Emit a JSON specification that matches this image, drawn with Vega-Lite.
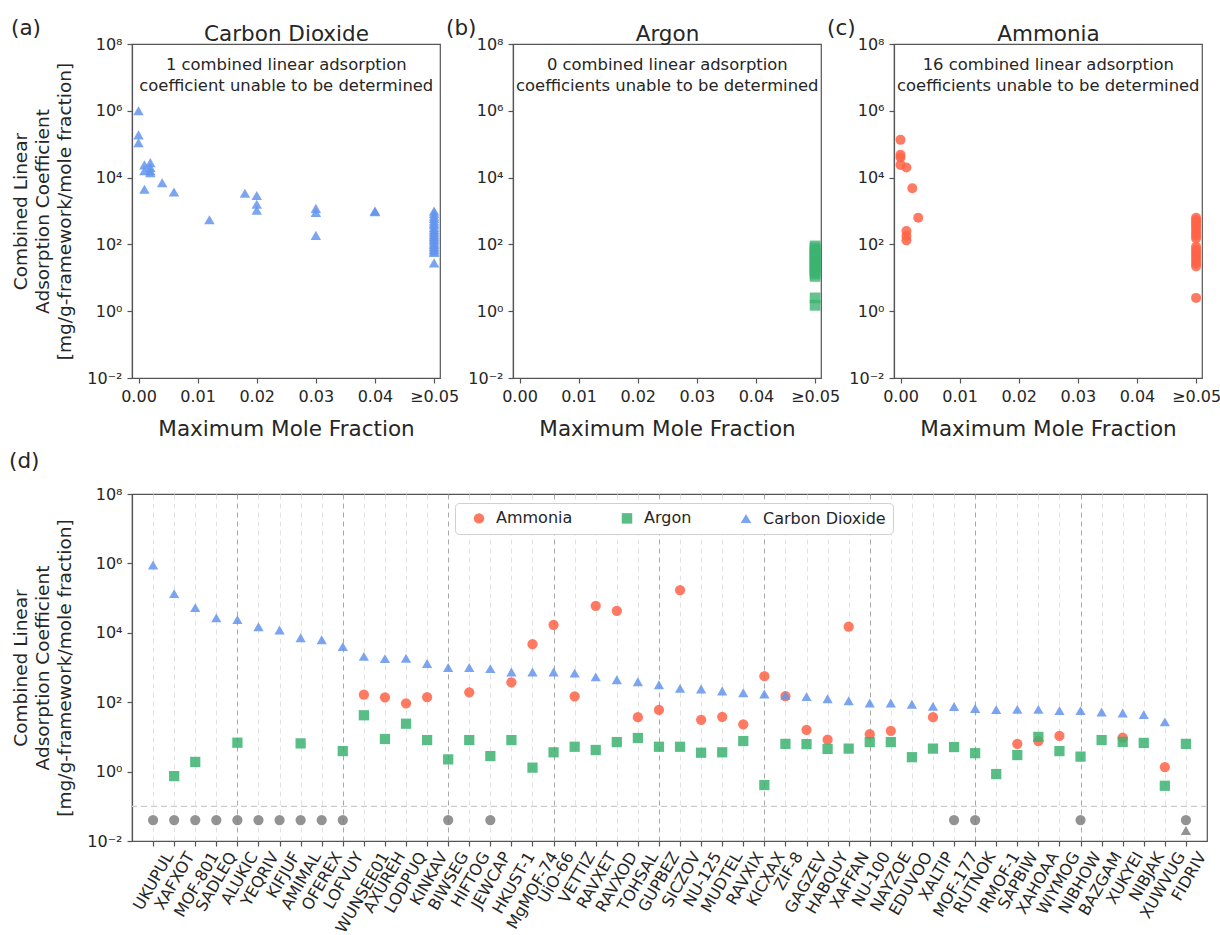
{
  "$schema": "https://vega.github.io/schema/vega-lite/v6.json",
  "background": "white",
  "padding": {"left": 8, "top": 16, "right": 4, "bottom": 4},
  "autosize": {"type": "pad"},
  "config": {
    "font": "DejaVu Sans",
    "view": {"stroke": "#555555", "strokeWidth": 1.2},
    "axis": {
      "domainColor": "#555555", "domainWidth": 1.2,
      "tickColor": "#555555", "tickWidth": 1.2, "tickSize": 5,
      "labelColor": "#262626", "titleColor": "#262626",
      "labelFontSize": 16, "titleFontWeight": "normal",
      "labelPadding": 5, "grid": false
    },
    "title": {"color": "#262626", "fontWeight": "normal", "fontSize": 21.5},
    "legend": {
      "labelColor": "#262626", "labelFontSize": 16,
      "fillColor": "white", "strokeColor": "#d0d0d0", "cornerRadius": 4,
      "padding": 7, "symbolOffset": 9, "columnPadding": 37, "labelOffset": 9,
      "symbolSize": 110, "symbolOpacity": 0.85
    }
  },
  "datasets": {
    "fractions": [
      {"gas": "Carbon Dioxide", "max_mole_fraction": 0, "coefficient": 1000000},
      {"gas": "Carbon Dioxide", "max_mole_fraction": 0, "coefficient": 190000},
      {"gas": "Carbon Dioxide", "max_mole_fraction": 0, "coefficient": 110000},
      {"gas": "Carbon Dioxide", "max_mole_fraction": 0.001, "coefficient": 24000},
      {"gas": "Carbon Dioxide", "max_mole_fraction": 0.001, "coefficient": 16000},
      {"gas": "Carbon Dioxide", "max_mole_fraction": 0.001, "coefficient": 4500},
      {"gas": "Carbon Dioxide", "max_mole_fraction": 0.002, "coefficient": 28000},
      {"gas": "Carbon Dioxide", "max_mole_fraction": 0.002, "coefficient": 20000},
      {"gas": "Carbon Dioxide", "max_mole_fraction": 0.002, "coefficient": 16000},
      {"gas": "Carbon Dioxide", "max_mole_fraction": 0.002, "coefficient": 14000},
      {"gas": "Carbon Dioxide", "max_mole_fraction": 0.004, "coefficient": 7000},
      {"gas": "Carbon Dioxide", "max_mole_fraction": 0.006, "coefficient": 3700},
      {"gas": "Carbon Dioxide", "max_mole_fraction": 0.012, "coefficient": 550},
      {"gas": "Carbon Dioxide", "max_mole_fraction": 0.018, "coefficient": 3400},
      {"gas": "Carbon Dioxide", "max_mole_fraction": 0.02, "coefficient": 2900},
      {"gas": "Carbon Dioxide", "max_mole_fraction": 0.02, "coefficient": 1600},
      {"gas": "Carbon Dioxide", "max_mole_fraction": 0.02, "coefficient": 1050},
      {"gas": "Carbon Dioxide", "max_mole_fraction": 0.03, "coefficient": 1200},
      {"gas": "Carbon Dioxide", "max_mole_fraction": 0.03, "coefficient": 900},
      {"gas": "Carbon Dioxide", "max_mole_fraction": 0.03, "coefficient": 186},
      {"gas": "Carbon Dioxide", "max_mole_fraction": 0.04, "coefficient": 1000},
      {"gas": "Carbon Dioxide", "max_mole_fraction": 0.04, "coefficient": 950},
      {"gas": "Carbon Dioxide", "max_mole_fraction": 0.05, "coefficient": 1000},
      {"gas": "Carbon Dioxide", "max_mole_fraction": 0.05, "coefficient": 850},
      {"gas": "Carbon Dioxide", "max_mole_fraction": 0.05, "coefficient": 700},
      {"gas": "Carbon Dioxide", "max_mole_fraction": 0.05, "coefficient": 600},
      {"gas": "Carbon Dioxide", "max_mole_fraction": 0.05, "coefficient": 500},
      {"gas": "Carbon Dioxide", "max_mole_fraction": 0.05, "coefficient": 430},
      {"gas": "Carbon Dioxide", "max_mole_fraction": 0.05, "coefficient": 380},
      {"gas": "Carbon Dioxide", "max_mole_fraction": 0.05, "coefficient": 320},
      {"gas": "Carbon Dioxide", "max_mole_fraction": 0.05, "coefficient": 280},
      {"gas": "Carbon Dioxide", "max_mole_fraction": 0.05, "coefficient": 250},
      {"gas": "Carbon Dioxide", "max_mole_fraction": 0.05, "coefficient": 220},
      {"gas": "Carbon Dioxide", "max_mole_fraction": 0.05, "coefficient": 195},
      {"gas": "Carbon Dioxide", "max_mole_fraction": 0.05, "coefficient": 175},
      {"gas": "Carbon Dioxide", "max_mole_fraction": 0.05, "coefficient": 158},
      {"gas": "Carbon Dioxide", "max_mole_fraction": 0.05, "coefficient": 140},
      {"gas": "Carbon Dioxide", "max_mole_fraction": 0.05, "coefficient": 126},
      {"gas": "Carbon Dioxide", "max_mole_fraction": 0.05, "coefficient": 110},
      {"gas": "Carbon Dioxide", "max_mole_fraction": 0.05, "coefficient": 100},
      {"gas": "Carbon Dioxide", "max_mole_fraction": 0.05, "coefficient": 89},
      {"gas": "Carbon Dioxide", "max_mole_fraction": 0.05, "coefficient": 80},
      {"gas": "Carbon Dioxide", "max_mole_fraction": 0.05, "coefficient": 71},
      {"gas": "Carbon Dioxide", "max_mole_fraction": 0.05, "coefficient": 63},
      {"gas": "Carbon Dioxide", "max_mole_fraction": 0.05, "coefficient": 57},
      {"gas": "Carbon Dioxide", "max_mole_fraction": 0.05, "coefficient": 28},
      {"gas": "Argon", "max_mole_fraction": 0.05, "coefficient": 90},
      {"gas": "Argon", "max_mole_fraction": 0.05, "coefficient": 78},
      {"gas": "Argon", "max_mole_fraction": 0.05, "coefficient": 68},
      {"gas": "Argon", "max_mole_fraction": 0.05, "coefficient": 60},
      {"gas": "Argon", "max_mole_fraction": 0.05, "coefficient": 52},
      {"gas": "Argon", "max_mole_fraction": 0.05, "coefficient": 46},
      {"gas": "Argon", "max_mole_fraction": 0.05, "coefficient": 40},
      {"gas": "Argon", "max_mole_fraction": 0.05, "coefficient": 35},
      {"gas": "Argon", "max_mole_fraction": 0.05, "coefficient": 30},
      {"gas": "Argon", "max_mole_fraction": 0.05, "coefficient": 26},
      {"gas": "Argon", "max_mole_fraction": 0.05, "coefficient": 23},
      {"gas": "Argon", "max_mole_fraction": 0.05, "coefficient": 20},
      {"gas": "Argon", "max_mole_fraction": 0.05, "coefficient": 17},
      {"gas": "Argon", "max_mole_fraction": 0.05, "coefficient": 15},
      {"gas": "Argon", "max_mole_fraction": 0.05, "coefficient": 13},
      {"gas": "Argon", "max_mole_fraction": 0.05, "coefficient": 11},
      {"gas": "Argon", "max_mole_fraction": 0.05, "coefficient": 2.5},
      {"gas": "Argon", "max_mole_fraction": 0.05, "coefficient": 1.5},
      {"gas": "Ammonia", "max_mole_fraction": 0, "coefficient": 135000},
      {"gas": "Ammonia", "max_mole_fraction": 0, "coefficient": 48000},
      {"gas": "Ammonia", "max_mole_fraction": 0, "coefficient": 40000},
      {"gas": "Ammonia", "max_mole_fraction": 0, "coefficient": 24000},
      {"gas": "Ammonia", "max_mole_fraction": 0.001, "coefficient": 20000},
      {"gas": "Ammonia", "max_mole_fraction": 0.001, "coefficient": 250},
      {"gas": "Ammonia", "max_mole_fraction": 0.001, "coefficient": 178},
      {"gas": "Ammonia", "max_mole_fraction": 0.001, "coefficient": 132},
      {"gas": "Ammonia", "max_mole_fraction": 0.002, "coefficient": 4800},
      {"gas": "Ammonia", "max_mole_fraction": 0.003, "coefficient": 630},
      {"gas": "Ammonia", "max_mole_fraction": 0.05, "coefficient": 630},
      {"gas": "Ammonia", "max_mole_fraction": 0.05, "coefficient": 540},
      {"gas": "Ammonia", "max_mole_fraction": 0.05, "coefficient": 460},
      {"gas": "Ammonia", "max_mole_fraction": 0.05, "coefficient": 390},
      {"gas": "Ammonia", "max_mole_fraction": 0.05, "coefficient": 330},
      {"gas": "Ammonia", "max_mole_fraction": 0.05, "coefficient": 270},
      {"gas": "Ammonia", "max_mole_fraction": 0.05, "coefficient": 220},
      {"gas": "Ammonia", "max_mole_fraction": 0.05, "coefficient": 180},
      {"gas": "Ammonia", "max_mole_fraction": 0.05, "coefficient": 150},
      {"gas": "Ammonia", "max_mole_fraction": 0.05, "coefficient": 85},
      {"gas": "Ammonia", "max_mole_fraction": 0.05, "coefficient": 70},
      {"gas": "Ammonia", "max_mole_fraction": 0.05, "coefficient": 58},
      {"gas": "Ammonia", "max_mole_fraction": 0.05, "coefficient": 48},
      {"gas": "Ammonia", "max_mole_fraction": 0.05, "coefficient": 40},
      {"gas": "Ammonia", "max_mole_fraction": 0.05, "coefficient": 33},
      {"gas": "Ammonia", "max_mole_fraction": 0.05, "coefficient": 27},
      {"gas": "Ammonia", "max_mole_fraction": 0.05, "coefficient": 22},
      {"gas": "Ammonia", "max_mole_fraction": 0.05, "coefficient": 2.5}
    ],
    "coefficients": [
      {"mof": "WUNSEE01", "gas": "Ammonia", "value": 165, "status": "determined"},
      {"mof": "AXUREH", "gas": "Ammonia", "value": 138, "status": "determined"},
      {"mof": "LODPUQ", "gas": "Ammonia", "value": 93, "status": "determined"},
      {"mof": "KINKAV", "gas": "Ammonia", "value": 140, "status": "determined"},
      {"mof": "HIFTOG", "gas": "Ammonia", "value": 193, "status": "determined"},
      {"mof": "HKUST-1", "gas": "Ammonia", "value": 375, "status": "determined"},
      {"mof": "MgMOF-74", "gas": "Ammonia", "value": 4700, "status": "determined"},
      {"mof": "UiO-66", "gas": "Ammonia", "value": 17000, "status": "determined"},
      {"mof": "VETTIZ", "gas": "Ammonia", "value": 148, "status": "determined"},
      {"mof": "RAVXET", "gas": "Ammonia", "value": 60000, "status": "determined"},
      {"mof": "RAVXOD", "gas": "Ammonia", "value": 43000, "status": "determined"},
      {"mof": "TOHSAL", "gas": "Ammonia", "value": 37, "status": "determined"},
      {"mof": "GUPBEZ", "gas": "Ammonia", "value": 60, "status": "determined"},
      {"mof": "SICZOV", "gas": "Ammonia", "value": 170000, "status": "determined"},
      {"mof": "NU-125", "gas": "Ammonia", "value": 31, "status": "determined"},
      {"mof": "MUDTEL", "gas": "Ammonia", "value": 38, "status": "determined"},
      {"mof": "RAVXIX", "gas": "Ammonia", "value": 23, "status": "determined"},
      {"mof": "KICXAX", "gas": "Ammonia", "value": 560, "status": "determined"},
      {"mof": "ZIF-8", "gas": "Ammonia", "value": 150, "status": "determined"},
      {"mof": "GAGZEV", "gas": "Ammonia", "value": 16, "status": "determined"},
      {"mof": "HABQUY", "gas": "Ammonia", "value": 8.3, "status": "determined"},
      {"mof": "XAFFAN", "gas": "Ammonia", "value": 15000, "status": "determined"},
      {"mof": "NU-100", "gas": "Ammonia", "value": 12, "status": "determined"},
      {"mof": "NAYZOE", "gas": "Ammonia", "value": 15, "status": "determined"},
      {"mof": "XALTIP", "gas": "Ammonia", "value": 37, "status": "determined"},
      {"mof": "SAPBIW", "gas": "Ammonia", "value": 6.3, "status": "determined"},
      {"mof": "XAHOAA", "gas": "Ammonia", "value": 7.6, "status": "determined"},
      {"mof": "WIYMOG", "gas": "Ammonia", "value": 10.7, "status": "determined"},
      {"mof": "XUKYEI", "gas": "Ammonia", "value": 9.5, "status": "determined"},
      {"mof": "XUWVUG", "gas": "Ammonia", "value": 1.35, "status": "determined"},
      {"mof": "UKUPUL", "gas": "Ammonia", "value": 0.04, "status": "undetermined"},
      {"mof": "XAFXOT", "gas": "Ammonia", "value": 0.04, "status": "undetermined"},
      {"mof": "MOF-801", "gas": "Ammonia", "value": 0.04, "status": "undetermined"},
      {"mof": "SADLEQ", "gas": "Ammonia", "value": 0.04, "status": "undetermined"},
      {"mof": "ALUKIC", "gas": "Ammonia", "value": 0.04, "status": "undetermined"},
      {"mof": "YEQRIV", "gas": "Ammonia", "value": 0.04, "status": "undetermined"},
      {"mof": "KIFJUF", "gas": "Ammonia", "value": 0.04, "status": "undetermined"},
      {"mof": "AMIMAL", "gas": "Ammonia", "value": 0.04, "status": "undetermined"},
      {"mof": "OFEREX", "gas": "Ammonia", "value": 0.04, "status": "undetermined"},
      {"mof": "LOFVUY", "gas": "Ammonia", "value": 0.04, "status": "undetermined"},
      {"mof": "BIWSEG", "gas": "Ammonia", "value": 0.04, "status": "undetermined"},
      {"mof": "JEWCAP", "gas": "Ammonia", "value": 0.04, "status": "undetermined"},
      {"mof": "MOF-177", "gas": "Ammonia", "value": 0.04, "status": "undetermined"},
      {"mof": "RUTNOK", "gas": "Ammonia", "value": 0.04, "status": "undetermined"},
      {"mof": "NIBHOW", "gas": "Ammonia", "value": 0.04, "status": "undetermined"},
      {"mof": "FIDRIV", "gas": "Ammonia", "value": 0.04, "status": "undetermined"},
      {"mof": "XAFXOT", "gas": "Argon", "value": 0.74, "status": "determined"},
      {"mof": "MOF-801", "gas": "Argon", "value": 1.9, "status": "determined"},
      {"mof": "ALUKIC", "gas": "Argon", "value": 6.8, "status": "determined"},
      {"mof": "AMIMAL", "gas": "Argon", "value": 6.5, "status": "determined"},
      {"mof": "LOFVUY", "gas": "Argon", "value": 3.9, "status": "determined"},
      {"mof": "WUNSEE01", "gas": "Argon", "value": 42, "status": "determined"},
      {"mof": "AXUREH", "gas": "Argon", "value": 8.7, "status": "determined"},
      {"mof": "LODPUQ", "gas": "Argon", "value": 24, "status": "determined"},
      {"mof": "KINKAV", "gas": "Argon", "value": 8.1, "status": "determined"},
      {"mof": "BIWSEG", "gas": "Argon", "value": 2.25, "status": "determined"},
      {"mof": "HIFTOG", "gas": "Argon", "value": 8.1, "status": "determined"},
      {"mof": "JEWCAP", "gas": "Argon", "value": 2.8, "status": "determined"},
      {"mof": "HKUST-1", "gas": "Argon", "value": 8.1, "status": "determined"},
      {"mof": "MgMOF-74", "gas": "Argon", "value": 1.3, "status": "determined"},
      {"mof": "UiO-66", "gas": "Argon", "value": 3.6, "status": "determined"},
      {"mof": "VETTIZ", "gas": "Argon", "value": 5.2, "status": "determined"},
      {"mof": "RAVXET", "gas": "Argon", "value": 4.2, "status": "determined"},
      {"mof": "RAVXOD", "gas": "Argon", "value": 7.1, "status": "determined"},
      {"mof": "TOHSAL", "gas": "Argon", "value": 9.3, "status": "determined"},
      {"mof": "GUPBEZ", "gas": "Argon", "value": 5.2, "status": "determined"},
      {"mof": "SICZOV", "gas": "Argon", "value": 5.2, "status": "determined"},
      {"mof": "NU-125", "gas": "Argon", "value": 3.5, "status": "determined"},
      {"mof": "MUDTEL", "gas": "Argon", "value": 3.6, "status": "determined"},
      {"mof": "RAVXIX", "gas": "Argon", "value": 7.6, "status": "determined"},
      {"mof": "KICXAX", "gas": "Argon", "value": 0.41, "status": "determined"},
      {"mof": "ZIF-8", "gas": "Argon", "value": 6.3, "status": "determined"},
      {"mof": "GAGZEV", "gas": "Argon", "value": 6.2, "status": "determined"},
      {"mof": "HABQUY", "gas": "Argon", "value": 4.5, "status": "determined"},
      {"mof": "XAFFAN", "gas": "Argon", "value": 4.6, "status": "determined"},
      {"mof": "NU-100", "gas": "Argon", "value": 7.1, "status": "determined"},
      {"mof": "NAYZOE", "gas": "Argon", "value": 7.1, "status": "determined"},
      {"mof": "EDUVOO", "gas": "Argon", "value": 2.6, "status": "determined"},
      {"mof": "XALTIP", "gas": "Argon", "value": 4.6, "status": "determined"},
      {"mof": "MOF-177", "gas": "Argon", "value": 5.1, "status": "determined"},
      {"mof": "RUTNOK", "gas": "Argon", "value": 3.4, "status": "determined"},
      {"mof": "IRMOF-1", "gas": "Argon", "value": 0.85, "status": "determined"},
      {"mof": "SAPBIW", "gas": "Argon", "value": 3.0, "status": "determined"},
      {"mof": "XAHOAA", "gas": "Argon", "value": 10, "status": "determined"},
      {"mof": "WIYMOG", "gas": "Argon", "value": 3.9, "status": "determined"},
      {"mof": "NIBHOW", "gas": "Argon", "value": 2.7, "status": "determined"},
      {"mof": "BAZGAM", "gas": "Argon", "value": 8.1, "status": "determined"},
      {"mof": "XUKYEI", "gas": "Argon", "value": 7.2, "status": "determined"},
      {"mof": "NIBJAK", "gas": "Argon", "value": 6.7, "status": "determined"},
      {"mof": "XUWVUG", "gas": "Argon", "value": 0.39, "status": "determined"},
      {"mof": "FIDRIV", "gas": "Argon", "value": 6.3, "status": "determined"},
      {"mof": "UKUPUL", "gas": "Carbon Dioxide", "value": 900000, "status": "determined"},
      {"mof": "XAFXOT", "gas": "Carbon Dioxide", "value": 135000, "status": "determined"},
      {"mof": "MOF-801", "gas": "Carbon Dioxide", "value": 53000, "status": "determined"},
      {"mof": "SADLEQ", "gas": "Carbon Dioxide", "value": 27000, "status": "determined"},
      {"mof": "ALUKIC", "gas": "Carbon Dioxide", "value": 24000, "status": "determined"},
      {"mof": "YEQRIV", "gas": "Carbon Dioxide", "value": 15000, "status": "determined"},
      {"mof": "KIFJUF", "gas": "Carbon Dioxide", "value": 12000, "status": "determined"},
      {"mof": "AMIMAL", "gas": "Carbon Dioxide", "value": 7200, "status": "determined"},
      {"mof": "OFEREX", "gas": "Carbon Dioxide", "value": 6300, "status": "determined"},
      {"mof": "LOFVUY", "gas": "Carbon Dioxide", "value": 4000, "status": "determined"},
      {"mof": "WUNSEE01", "gas": "Carbon Dioxide", "value": 2100, "status": "determined"},
      {"mof": "AXUREH", "gas": "Carbon Dioxide", "value": 1800, "status": "determined"},
      {"mof": "LODPUQ", "gas": "Carbon Dioxide", "value": 1850, "status": "determined"},
      {"mof": "KINKAV", "gas": "Carbon Dioxide", "value": 1300, "status": "determined"},
      {"mof": "BIWSEG", "gas": "Carbon Dioxide", "value": 1000, "status": "determined"},
      {"mof": "HIFTOG", "gas": "Carbon Dioxide", "value": 1000, "status": "determined"},
      {"mof": "JEWCAP", "gas": "Carbon Dioxide", "value": 925, "status": "determined"},
      {"mof": "HKUST-1", "gas": "Carbon Dioxide", "value": 740, "status": "determined"},
      {"mof": "MgMOF-74", "gas": "Carbon Dioxide", "value": 740, "status": "determined"},
      {"mof": "UiO-66", "gas": "Carbon Dioxide", "value": 740, "status": "determined"},
      {"mof": "VETTIZ", "gas": "Carbon Dioxide", "value": 690, "status": "determined"},
      {"mof": "RAVXET", "gas": "Carbon Dioxide", "value": 535, "status": "determined"},
      {"mof": "RAVXOD", "gas": "Carbon Dioxide", "value": 445, "status": "determined"},
      {"mof": "TOHSAL", "gas": "Carbon Dioxide", "value": 390, "status": "determined"},
      {"mof": "GUPBEZ", "gas": "Carbon Dioxide", "value": 318, "status": "determined"},
      {"mof": "SICZOV", "gas": "Carbon Dioxide", "value": 250, "status": "determined"},
      {"mof": "NU-125", "gas": "Carbon Dioxide", "value": 240, "status": "determined"},
      {"mof": "MUDTEL", "gas": "Carbon Dioxide", "value": 210, "status": "determined"},
      {"mof": "RAVXIX", "gas": "Carbon Dioxide", "value": 187, "status": "determined"},
      {"mof": "KICXAX", "gas": "Carbon Dioxide", "value": 173, "status": "determined"},
      {"mof": "ZIF-8", "gas": "Carbon Dioxide", "value": 158, "status": "determined"},
      {"mof": "GAGZEV", "gas": "Carbon Dioxide", "value": 145, "status": "determined"},
      {"mof": "HABQUY", "gas": "Carbon Dioxide", "value": 126, "status": "determined"},
      {"mof": "XAFFAN", "gas": "Carbon Dioxide", "value": 110, "status": "determined"},
      {"mof": "NU-100", "gas": "Carbon Dioxide", "value": 95, "status": "determined"},
      {"mof": "NAYZOE", "gas": "Carbon Dioxide", "value": 95, "status": "determined"},
      {"mof": "EDUVOO", "gas": "Carbon Dioxide", "value": 87, "status": "determined"},
      {"mof": "XALTIP", "gas": "Carbon Dioxide", "value": 76, "status": "determined"},
      {"mof": "MOF-177", "gas": "Carbon Dioxide", "value": 75, "status": "determined"},
      {"mof": "RUTNOK", "gas": "Carbon Dioxide", "value": 66, "status": "determined"},
      {"mof": "IRMOF-1", "gas": "Carbon Dioxide", "value": 61, "status": "determined"},
      {"mof": "SAPBIW", "gas": "Carbon Dioxide", "value": 62, "status": "determined"},
      {"mof": "XAHOAA", "gas": "Carbon Dioxide", "value": 62, "status": "determined"},
      {"mof": "WIYMOG", "gas": "Carbon Dioxide", "value": 57, "status": "determined"},
      {"mof": "NIBHOW", "gas": "Carbon Dioxide", "value": 57, "status": "determined"},
      {"mof": "BAZGAM", "gas": "Carbon Dioxide", "value": 52, "status": "determined"},
      {"mof": "XUKYEI", "gas": "Carbon Dioxide", "value": 49, "status": "determined"},
      {"mof": "NIBJAK", "gas": "Carbon Dioxide", "value": 44, "status": "determined"},
      {"mof": "XUWVUG", "gas": "Carbon Dioxide", "value": 27, "status": "determined"},
      {"mof": "FIDRIV", "gas": "Carbon Dioxide", "value": 0.02, "status": "undetermined"}
    ]
  },
  "vconcat": [
    {
      "hconcat": [
        {
          "width": 308, "height": 334,
          "title": {"text": "(a)", "anchor": "start", "frame": "group", "dx": -121, "offset": -33, "baseline": "alphabetic"},
          "layer": [
            {
              "data": {"name": "fractions"},
              "transform": [{"filter": "datum.gas === 'Carbon Dioxide'"}],
              "mark": {"type": "point", "filled": true, "shape": "triangle-up", "size": 110, "opacity": 0.85, "color": "#6495ED"},
              "encoding": {
                "x": {"field": "max_mole_fraction", "type": "quantitative",
                  "scale": {"domain": [-0.0011, 0.051], "nice": false, "zero": false},
                  "axis": {"values": [0, 0.01, 0.02, 0.03, 0.04, 0.05], "labelExpr": "datum.value >= 0.0499 ? '≥0.05' : format(datum.value, '.2f')", "title": "Maximum Mole Fraction", "titleFontSize": 21.5, "titlePadding": 14}},
                "y": {"field": "coefficient", "type": "quantitative",
                  "scale": {"type": "log", "domain": [0.01, 100000000], "nice": false},
                  "axis": {"values": [0.01, 1, 100, 10000, 1000000, 100000000], "labelExpr": "datum.value < 0.1 ? '10⁻²' : datum.value < 10 ? '10⁰' : datum.value < 1000 ? '10²' : datum.value < 100000 ? '10⁴' : datum.value < 10000000 ? '10⁶' : '10⁸'", "title": ["Combined Linear", "Adsorption Coefficient", "[mg/g-framework/mole fraction]"], "titleFontSize": 18.5, "titleLineHeight": 22, "titlePadding": 12}}
              }
            },
            {
              "data": {"values": [{}]},
              "mark": {"type": "text", "text": ["1 combined linear adsorption", "coefficient unable to be determined"], "align": "center", "baseline": "alphabetic", "dy": 26, "lineHeight": 21, "fontSize": 16.4, "color": "#262626"},
              "encoding": {
                "x": {"datum": 0.025, "type": "quantitative", "axis": {"orient": "top", "title": "Carbon Dioxide", "labels": false, "ticks": false, "domain": false, "titleFontSize": 21.5, "titlePadding": 4, "titleBaseline": "alphabetic"}},
                "y": {"datum": 100000000, "type": "quantitative", "axis": null}
              }
            }
          ],
          "resolve": {"axis": {"x": "independent", "y": "independent"}}
        },
        {
          "width": 308, "height": 334,
          "title": {"text": "(b)", "anchor": "start", "frame": "group", "dx": -67, "offset": -33, "baseline": "alphabetic"},
          "layer": [
            {
              "data": {"name": "fractions"},
              "transform": [{"filter": "datum.gas === 'Argon'"}],
              "mark": {"type": "point", "filled": true, "shape": "square", "size": 115, "opacity": 0.8, "color": "#3CB371"},
              "encoding": {
                "x": {"field": "max_mole_fraction", "type": "quantitative",
                  "scale": {"domain": [-0.0011, 0.051], "nice": false, "zero": false},
                  "axis": {"values": [0, 0.01, 0.02, 0.03, 0.04, 0.05], "labelExpr": "datum.value >= 0.0499 ? '≥0.05' : format(datum.value, '.2f')", "title": "Maximum Mole Fraction", "titleFontSize": 21.5, "titlePadding": 14}},
                "y": {"field": "coefficient", "type": "quantitative",
                  "scale": {"type": "log", "domain": [0.01, 100000000], "nice": false},
                  "axis": {"values": [0.01, 1, 100, 10000, 1000000, 100000000], "labelExpr": "datum.value < 0.1 ? '10⁻²' : datum.value < 10 ? '10⁰' : datum.value < 1000 ? '10²' : datum.value < 100000 ? '10⁴' : datum.value < 10000000 ? '10⁶' : '10⁸'", "title": null}}
              }
            },
            {
              "data": {"values": [{}]},
              "mark": {"type": "text", "text": ["0 combined linear adsorption", "coefficients unable to be determined"], "align": "center", "baseline": "alphabetic", "dy": 26, "lineHeight": 21, "fontSize": 16.4, "color": "#262626"},
              "encoding": {
                "x": {"datum": 0.025, "type": "quantitative", "axis": {"orient": "top", "title": "Argon", "labels": false, "ticks": false, "domain": false, "titleFontSize": 21.5, "titlePadding": 4, "titleBaseline": "alphabetic"}},
                "y": {"datum": 100000000, "type": "quantitative", "axis": null}
              }
            }
          ],
          "resolve": {"axis": {"x": "independent", "y": "independent"}}
        },
        {
          "width": 308, "height": 334,
          "title": {"text": "(c)", "anchor": "start", "frame": "group", "dx": -67, "offset": -33, "baseline": "alphabetic"},
          "layer": [
            {
              "data": {"name": "fractions"},
              "transform": [{"filter": "datum.gas === 'Ammonia'"}],
              "mark": {"type": "point", "filled": true, "shape": "circle", "size": 100, "opacity": 0.85, "color": "#FF6347"},
              "encoding": {
                "x": {"field": "max_mole_fraction", "type": "quantitative",
                  "scale": {"domain": [-0.0011, 0.051], "nice": false, "zero": false},
                  "axis": {"values": [0, 0.01, 0.02, 0.03, 0.04, 0.05], "labelExpr": "datum.value >= 0.0499 ? '≥0.05' : format(datum.value, '.2f')", "title": "Maximum Mole Fraction", "titleFontSize": 21.5, "titlePadding": 14}},
                "y": {"field": "coefficient", "type": "quantitative",
                  "scale": {"type": "log", "domain": [0.01, 100000000], "nice": false},
                  "axis": {"values": [0.01, 1, 100, 10000, 1000000, 100000000], "labelExpr": "datum.value < 0.1 ? '10⁻²' : datum.value < 10 ? '10⁰' : datum.value < 1000 ? '10²' : datum.value < 100000 ? '10⁴' : datum.value < 10000000 ? '10⁶' : '10⁸'", "title": null}}
              }
            },
            {
              "data": {"values": [{}]},
              "mark": {"type": "text", "text": ["16 combined linear adsorption", "coefficients unable to be determined"], "align": "center", "baseline": "alphabetic", "dy": 26, "lineHeight": 21, "fontSize": 16.4, "color": "#262626"},
              "encoding": {
                "x": {"datum": 0.025, "type": "quantitative", "axis": {"orient": "top", "title": "Ammonia", "labels": false, "ticks": false, "domain": false, "titleFontSize": 21.5, "titlePadding": 4, "titleBaseline": "alphabetic"}},
                "y": {"datum": 100000000, "type": "quantitative", "axis": null}
              }
            }
          ],
          "resolve": {"axis": {"x": "independent", "y": "independent"}}
        }
      ],
      "spacing": 73,
      "bounds": "flush"
    },
    {
      "width": 1075, "height": 347,
      "title": {"text": "(d)", "anchor": "start", "frame": "group", "dx": -123, "offset": -3, "baseline": "alphabetic"},
      "layer": [
        {
          "data": {"values": [{}]},
          "mark": {"type": "rule", "color": "#cccccc", "strokeDash": [6, 4], "strokeWidth": 1.2},
          "encoding": {"y": {"datum": 0.1, "type": "quantitative"}}
        },
        {
          "data": {"name": "coefficients"},
          "mark": {"type": "point", "filled": true, "size": 105, "opacity": 0.85},
          "encoding": {
            "x": {"field": "mof", "type": "nominal", "sort": null,
              "scale": {"type": "point", "padding": 1, "domain": ["UKUPUL", "XAFXOT", "MOF-801", "SADLEQ", "ALUKIC", "YEQRIV", "KIFJUF", "AMIMAL", "OFEREX", "LOFVUY", "WUNSEE01", "AXUREH", "LODPUQ", "KINKAV", "BIWSEG", "HIFTOG", "JEWCAP", "HKUST-1", "MgMOF-74", "UiO-66", "VETTIZ", "RAVXET", "RAVXOD", "TOHSAL", "GUPBEZ", "SICZOV", "NU-125", "MUDTEL", "RAVXIX", "KICXAX", "ZIF-8", "GAGZEV", "HABQUY", "XAFFAN", "NU-100", "NAYZOE", "EDUVOO", "XALTIP", "MOF-177", "RUTNOK", "IRMOF-1", "SAPBIW", "XAHOAA", "WIYMOG", "NIBHOW", "BAZGAM", "XUKYEI", "NIBJAK", "XUWVUG", "FIDRIV"]},
              "axis": {
                "title": null, "grid": true, "gridDash": [5, 4], "gridWidth": 1,
                "gridColor": {"condition": {"test": "indexof(['ALUKIC','LOFVUY','BIWSEG','UiO-66','GUPBEZ','KICXAX','NU-100','RUTNOK','NIBHOW'], datum.value) >= 0", "value": "#a8a8a8"}, "value": "#e2e2e2"},
                "labelAngle": -60, "labelAlign": "right", "labelBaseline": "middle", "labelPadding": 7, "labelFontSize": 16,
                "labelOffset": {"condition": [
                  {"test": "length(datum.label) <= 5", "value": 13},
                  {"test": "length(datum.label) == 6", "value": 16},
                  {"test": "length(datum.label) == 7", "value": 19}
                ], "value": 21}
              }},
            "y": {"field": "value", "type": "quantitative",
              "scale": {"type": "log", "domain": [0.01, 100000000], "nice": false},
              "axis": {"values": [0.01, 1, 100, 10000, 1000000, 100000000], "labelExpr": "datum.value < 0.1 ? '10⁻²' : datum.value < 10 ? '10⁰' : datum.value < 1000 ? '10²' : datum.value < 100000 ? '10⁴' : datum.value < 10000000 ? '10⁶' : '10⁸'", "title": ["Combined Linear", "Adsorption Coefficient", "[mg/g-framework/mole fraction]"], "titleFontSize": 18.5, "titleLineHeight": 22, "titlePadding": 12}},
            "color": {
              "condition": {"test": "datum.status === 'undetermined'", "value": "#808080"},
              "field": "gas", "type": "nominal",
              "scale": {"domain": ["Ammonia", "Argon", "Carbon Dioxide"], "range": ["#FF6347", "#3CB371", "#6495ED"]},
              "legend": {"title": null, "orient": "none", "legendX": 323, "legendY": 9, "direction": "horizontal", "columns": 3}
            },
            "shape": {
              "field": "gas", "type": "nominal",
              "scale": {"domain": ["Ammonia", "Argon", "Carbon Dioxide"], "range": ["circle", "square", "triangle-up"]},
              "legend": {"title": null, "orient": "none", "legendX": 323, "legendY": 9, "direction": "horizontal", "columns": 3}
            }
          }
        }
      ]
    }
  ],
  "spacing": 8,
  "bounds": "full",
  "resolve": {"legend": {"color": "independent", "shape": "independent"}}
}
